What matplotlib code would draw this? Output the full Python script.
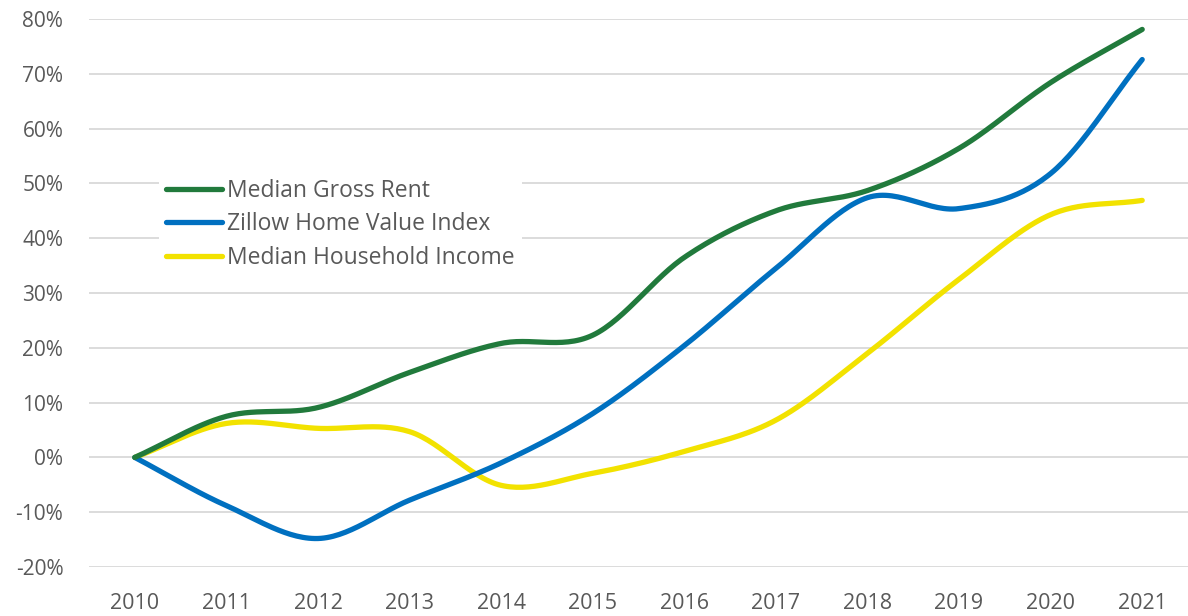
import matplotlib
matplotlib.use("Agg")
import matplotlib.pyplot as plt
import numpy as np
from matplotlib.ticker import FuncFormatter

years = [2010, 2011, 2012, 2013, 2014, 2015, 2016, 2017, 2018, 2019, 2020, 2021]
rent = [0, 7.5, 9.1, 15.5, 20.8, 22.3, 36.5, 45.0, 48.7, 56.4, 68.4, 78.1]
zillow = [0, -8.8, -14.8, -7.8, -1.0, 8.0, 20.4, 34.5, 47.4, 45.4, 51.8, 72.6]
income = [0, 6.2, 5.3, 4.7, -5.1, -2.9, 1.1, 6.8, 19.0, 32.5, 44.3, 46.9]

GRAY = "#595959"
plt.rcParams["font.family"] = ["Open Sans", "DejaVu Sans"]


def smooth(x, y, n=30):
    """Catmull-Rom smoothing between points (like Excel's smoothed line)."""
    x = np.asarray(x, float); y = np.asarray(y, float)
    px = np.concatenate([[2 * x[0] - x[1]], x, [2 * x[-1] - x[-2]]])
    py = np.concatenate([[2 * y[0] - y[1]], y, [2 * y[-1] - y[-2]]])
    xs, ys = [], []
    t = np.linspace(0, 1, n, endpoint=False)
    for i in range(1, len(px) - 2):
        for arr, out in ((px, xs), (py, ys)):
            p0, p1, p2, p3 = arr[i - 1], arr[i], arr[i + 1], arr[i + 2]
            out.extend(0.5 * ((2 * p1) + (-p0 + p2) * t + (2 * p0 - 5 * p1 + 4 * p2 - p3) * t ** 2
                              + (-p0 + 3 * p1 - 3 * p2 + p3) * t ** 3))
    xs.append(x[-1]); ys.append(y[-1])
    return np.array(xs), np.array(ys)


fig = plt.figure(figsize=(11.88, 6.16), dpi=100)
ax = fig.add_axes([89 / 1188, 1 - 567 / 616, 1 - 89 / 1188, (567 - 19) / 616])
idx = np.arange(len(years))
series = [("Median Gross Rent", rent, "#217a3c"),
          ("Zillow Home Value Index", zillow, "#0070c0"),
          ("Median Household Income", income, "#f2e200")]
for name, vals, col in series[::-1]:
    sx, sy = smooth(idx, vals)
    ax.plot(sx, sy, color=col, lw=3.8, solid_capstyle="round", label=name, zorder=3)

ax.set_xlim(-0.5, 11.5)
ax.set_ylim(-20, 80)
ax.set_yticks(range(-20, 81, 10))
ax.yaxis.set_major_formatter(FuncFormatter(lambda v, p: f"{v:.0f}%"))
ax.set_xticks(idx)
ax.set_xticklabels([str(y) for y in years])
ax.grid(axis="y", color="#d9d9d9", lw=1.3)
ax.set_axisbelow(True)
for s in ax.spines.values():
    s.set_visible(False)
ax.tick_params(length=0, labelsize=15, colors=GRAY)
ax.tick_params(axis="x", labelsize=15.5, pad=19)
ax.tick_params(axis="y", pad=18.5)

h, l = ax.get_legend_handles_labels()
leg = ax.legend(h[::-1], l[::-1], loc="center left", bbox_to_anchor=(0.0637, 0.625),
                frameon=True, fancybox=False, edgecolor="none", framealpha=1,
                fontsize=16.5, handlelength=2.45, handletextpad=0.22, labelspacing=0.41,
                borderpad=0.3, borderaxespad=0)
for t in leg.get_texts():
    t.set_color(GRAY)

fig.savefig("out.png", dpi=100)
